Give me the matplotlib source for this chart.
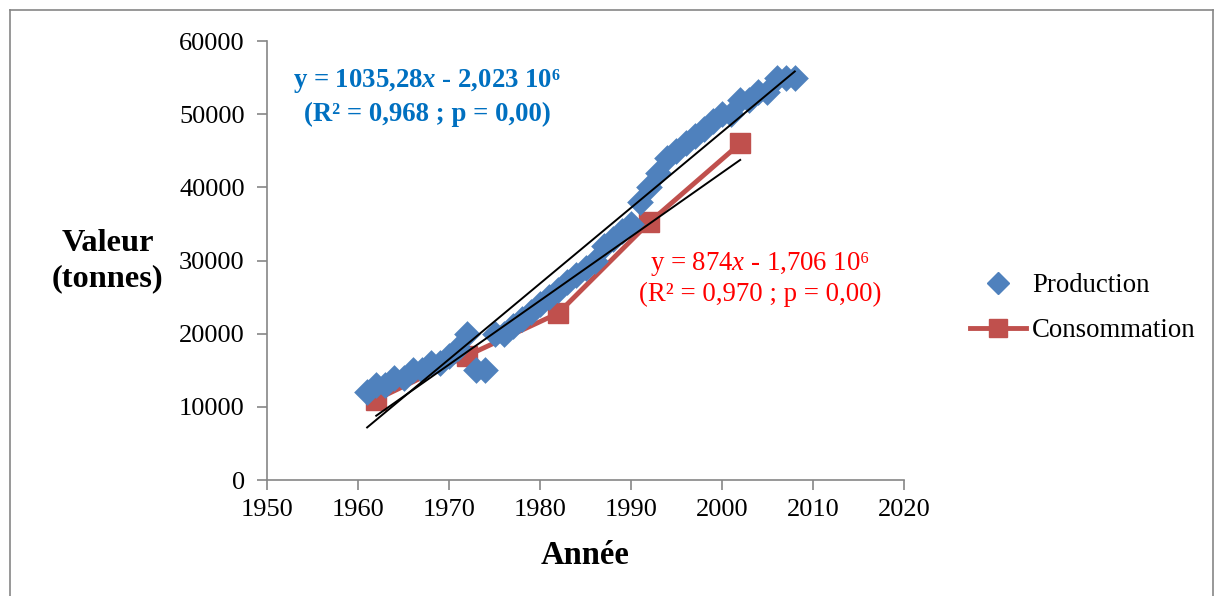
import matplotlib
matplotlib.use("Agg")
import matplotlib.pyplot as plt
from matplotlib.lines import Line2D
import numpy as np

plt.rcParams['font.family'] = ['Liberation Serif', 'DejaVu Serif']
plt.rcParams['mathtext.fontset'] = 'custom'
plt.rcParams['mathtext.rm'] = 'Liberation Serif'
plt.rcParams['mathtext.it'] = 'Liberation Serif:italic'
plt.rcParams['mathtext.bf'] = 'Liberation Serif:bold'
plt.rcParams['mathtext.bfit'] = 'Liberation Serif:italic:bold'

# Production (tonnes)
prod_years = list(range(1961, 2009))
prod_values = [12000, 13000, 13000, 14000, 14000, 15000, 15000, 16000, 16000, 17000,
               18000, 20000, 15000, 15000, 20000, 20000, 21000, 22000, 23000, 24000,
               25000, 26000, 27000, 28000, 29000, 30000, 32000, 33000, 34000, 35000,
               38000, 40000, 42000, 44000, 45000, 46000, 47000, 48000, 49000, 50000,
               50000, 52000, 52000, 53000, 53000, 55000, 55000, 55000]

# Consommation (tonnes)
cons_years = [1962, 1972, 1982, 1992, 2002]
cons_values = [11000, 17000, 22800, 35200, 46000]

# Linear trends (slope, intercept)
prod_trend = (1035.28, -2.023e6)
cons_trend = (874.0, -1.706e6)

x_ticks = [1950, 1960, 1970, 1980, 1990, 2000, 2010, 2020]
y_ticks = [0, 10000, 20000, 30000, 40000, 50000, 60000]

blue = '#4F81BD'
red = '#C0504D'
grey = '#868686'

fig = plt.figure(figsize=(12.16, 5.96), dpi=100)
ax = fig.add_axes([0.2196, 0.1946, 0.5238, 0.7366])

ax.plot(cons_years, cons_values, color=red, lw=3.5, marker='s', ms=14,
        label='Consommation', zorder=3)
ax.scatter(prod_years, prod_values, marker='D', s=185, color=blue,
           label='Production', zorder=4, linewidths=0)

px = np.array([prod_years[0], prod_years[-1]])
ax.plot(px, prod_trend[0] * px + prod_trend[1], color='black', lw=1.4, zorder=5)
cx = np.array([cons_years[0], cons_years[-1]])
ax.plot(cx, cons_trend[0] * cx + cons_trend[1], color='black', lw=1.4, zorder=5)

ax.set_xlim(1950, 2020)
ax.set_ylim(0, 60000)
ax.set_xticks(x_ticks)
ax.set_yticks(y_ticks)
ax.tick_params(labelsize=19, color=grey, length=7, width=1.2)
ax.tick_params(axis='y', pad=9)
ax.tick_params(axis='x', pad=7)
for side in ('top', 'right'):
    ax.spines[side].set_visible(False)
for side in ('left', 'bottom'):
    ax.spines[side].set_color(grey)
    ax.spines[side].set_linewidth(1.2)

ax.set_xlabel('Année', fontsize=23.5, fontweight='bold', labelpad=13)
fig.text(0.0885, 0.562, 'Valeur\n(tonnes)', fontsize=23.3, fontweight='bold',
         ha='center', va='center', linespacing=1.3)

# Trend equations
ax.text(1967.6, 54500, r'y = 1035,28$\mathbfit{x}$ - 2,023 10⁶',
        color='#0070C0', fontsize=19.3, fontweight='bold', ha='center', va='center')
ax.text(1967.6, 50000, '(R² = 0,968 ; p = 0,00)',
        color='#0070C0', fontsize=19.3, fontweight='bold', ha='center', va='center')
ax.text(2004.2, 29500, r'y = 874$x$ - 1,706 10⁶',
        color='#FF0000', fontsize=19.3, ha='center', va='center')
ax.text(2004.2, 25300, '(R² = 0,970 ; p = 0,00)',
        color='#FF0000', fontsize=19.3, ha='center', va='center')

handles = [Line2D([], [], color=blue, marker='D', ls='none', ms=11),
           Line2D([], [], color=red, marker='s', lw=3.5, ms=13)]
fig.legend(handles, ['Production', 'Consommation'], loc='center left',
           bbox_to_anchor=(0.778, 0.483), frameon=False, fontsize=19.3,
           handlelength=2.1, handletextpad=0.2, labelspacing=0.75)

# Outer frame
for xs, ys in [([0.008, 0.008], [0.0, 0.984]), ([0.008, 0.9975], [0.984, 0.984]),
               ([0.9975, 0.9975], [0.0, 0.984])]:
    fig.add_artist(Line2D(xs, ys, color=grey, lw=1.2, transform=fig.transFigure))

fig.savefig('out.png', dpi=100)
